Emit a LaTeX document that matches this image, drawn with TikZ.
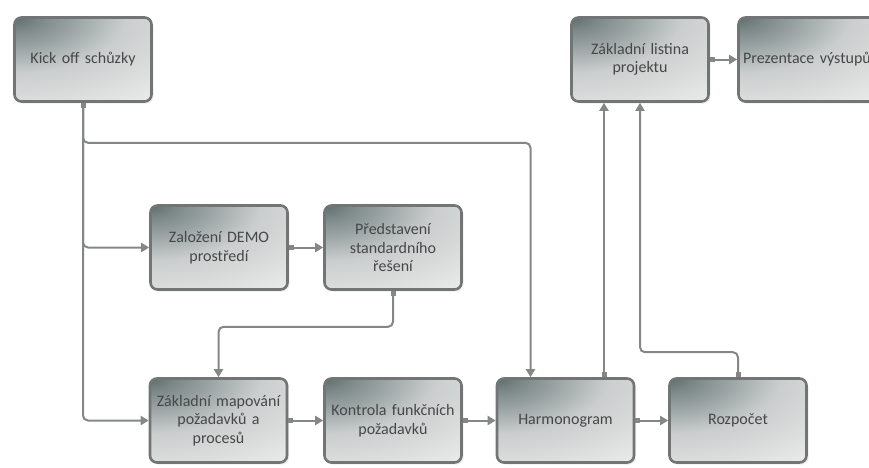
\documentclass[tikz,border=0pt]{standalone}
\usepackage{fontspec}
\setmainfont{Carlito}
\usetikzlibrary{arrows.meta,shadows}

\definecolor{boxline}{HTML}{737575}
\definecolor{shadeA}{HTML}{5F6D6D}
\definecolor{shadeA2}{HTML}{7A8686}
\definecolor{shadeB}{HTML}{A3ABAB}
\definecolor{shadeB2}{HTML}{CBCECE}
\definecolor{shadeC}{HTML}{EEEEEE}
\definecolor{wire}{HTML}{858787}
\definecolor{txt}{HTML}{474747}

% dark in the top-left corner, fading out towards the opposite corner
% (a shaded path maps 25bp of the shading onto its outline)
\pgfdeclareradialshading{cornerfade}{\pgfpoint{0bp}{0bp}}{%
  color(0bp)=(shadeA); color(2.5bp)=(shadeA2); color(7.5bp)=(shadeB);
  color(12bp)=(shadeB2); color(25bp)=(shadeC); color(50bp)=(shadeC)}

\tikzset{
  stagebox/.style={draw=boxline, line width=2.6pt, rounded corners=7pt,
    minimum width=137pt, minimum height=84pt, text width=130pt,
    align=center, inner sep=0pt, text=txt,
    font=\fontsize{16}{18.5}\selectfont, fill=shadeC,
    path picture={\shade[shading=cornerfade]
      (path picture bounding box.north west) ellipse (230pt and 115pt);},
    drop shadow={opacity=0.15, shadow xshift=2pt, shadow yshift=-2pt}},
  link/.style={draw=wire, line width=2pt, rounded corners=5pt,
    {Square[length=5pt,width=5pt]}-{Triangle[length=8pt,width=9pt]}}
}

\begin{document}
\begin{tikzpicture}[x=1pt,y=-1pt]
  \useasboundingbox (0,0) rectangle (869,467);
  \clip (0,0) rectangle (869,467);

  % stages
  \node[stagebox] (kick)    at (83,59.5)    {Kick off schůzky};
  \node[stagebox] (listina) at (640,59.5)   {Základní listina\\projektu};
  \node[stagebox] (prez)    at (807,59.5)   {Prezentace výstupů};
  \node[stagebox] (demo)    at (219,247.5)  {Založení DEMO\\prostředí};
  \node[stagebox] (pred)    at (393,247.5)  {Představení\\standardního\\řešení};
  \node[stagebox] (mapo)    at (218.5,420.5){Základní mapování\\požadavků a\\procesů};
  \node[stagebox] (kontr)   at (393,420.5)  {Kontrola funkčních\\požadavků};
  \node[stagebox] (harm)    at (565.5,420.5){Harmonogram};
  \node[stagebox] (rozp)    at (738,420.5)  {Rozpočet};

  % connectors
  \draw[link] (kick.south) |- (demo.west);
  \draw[link] (kick.south) |- (mapo.west);
  \draw[link] (kick.south) -- ++(0,40) -| ([xshift=-35pt]harm.north);
  \draw[link] (demo.east) -- (pred.west);
  \draw[link] (pred.south) -- ++(0,36) -| (mapo.north);
  \draw[link] (mapo.east) -- (kontr.west);
  \draw[link] (kontr.east) -- (harm.west);
  \draw[link] (harm.east) -- (rozp.west);
  \draw[link] ([xshift=38.5pt]harm.north) -- ([xshift=38.5pt]harm.north |- listina.south);
  \draw[link] (rozp.north) -- ++(0,-25) -| (listina.south);
  \draw[link] (listina.east) -- (prez.west);
\end{tikzpicture}
\end{document}
